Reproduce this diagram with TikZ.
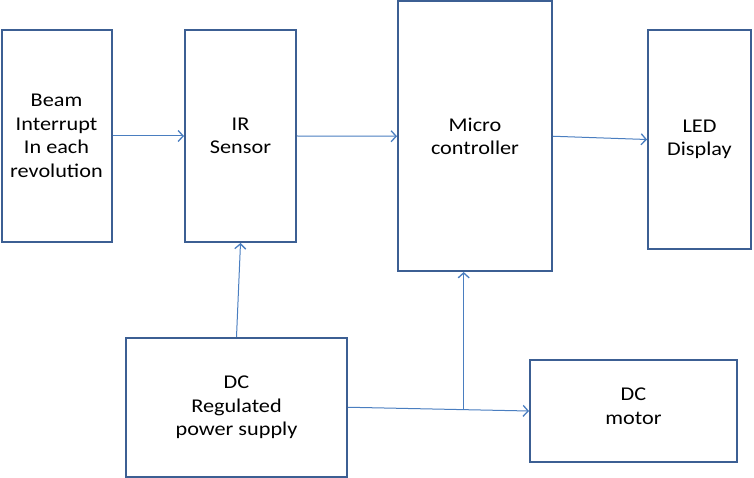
\documentclass[tikz,border=0pt]{standalone}
\usepackage{fontspec}
\setmainfont{Carlito}[FakeStretch=1.14]
\usetikzlibrary{arrows.meta,calc}
\definecolor{boxblue}{HTML}{3C5F93}
\definecolor{lineblue}{HTML}{4A7EC0}
\begin{document}
\begin{tikzpicture}[x=1pt,y=-1pt,
  blk/.style={draw=boxblue,line width=2pt,inner sep=0pt,align=center,
    font=\fontsize{19.5}{23.5}\selectfont,text=black},
  conn/.style={draw=lineblue,line width=1pt,-{Straight Barb[length=5pt,width=11pt,line width=1.3pt]}}]
\useasboundingbox (0,0) rectangle (754,478);
\node[blk,minimum width=110pt,minimum height=212pt] (beam) at (56.5,136) {Beam\\Interrupt\\In each\\revolution};
\node[blk,minimum width=111pt,minimum height=212pt] (ir) at (240.5,136) {IR\\Sensor};
\node[blk,minimum width=154pt,minimum height=269.5pt] (micro) at (475,136.25) {Micro\\controller};
\node[blk,minimum width=103pt,minimum height=219pt] (led) at (699.5,139.5) {LED\\Display};
\node[blk,minimum width=221pt,minimum height=138.5pt] (power) at (236.5,407.25) {DC\\Regulated\\power supply};
\node[blk,minimum width=207pt,minimum height=102pt,text depth=10pt] (motor) at (633.5,411) {DC\\motor};
\draw[conn] (beam.east) -- (ir.west);
\draw[conn] (ir.east) -- (micro.west);
\draw[conn] (micro.east) -- (led.west);
\draw[conn] (power.north) -- (ir.south);
\draw[conn] (power.east) -- (motor.west);
\coordinate (j) at ($(power.east)!0.639!(motor.west)$);
\draw[conn] (j) -- (j |- micro.south);
\end{tikzpicture}
\end{document}
